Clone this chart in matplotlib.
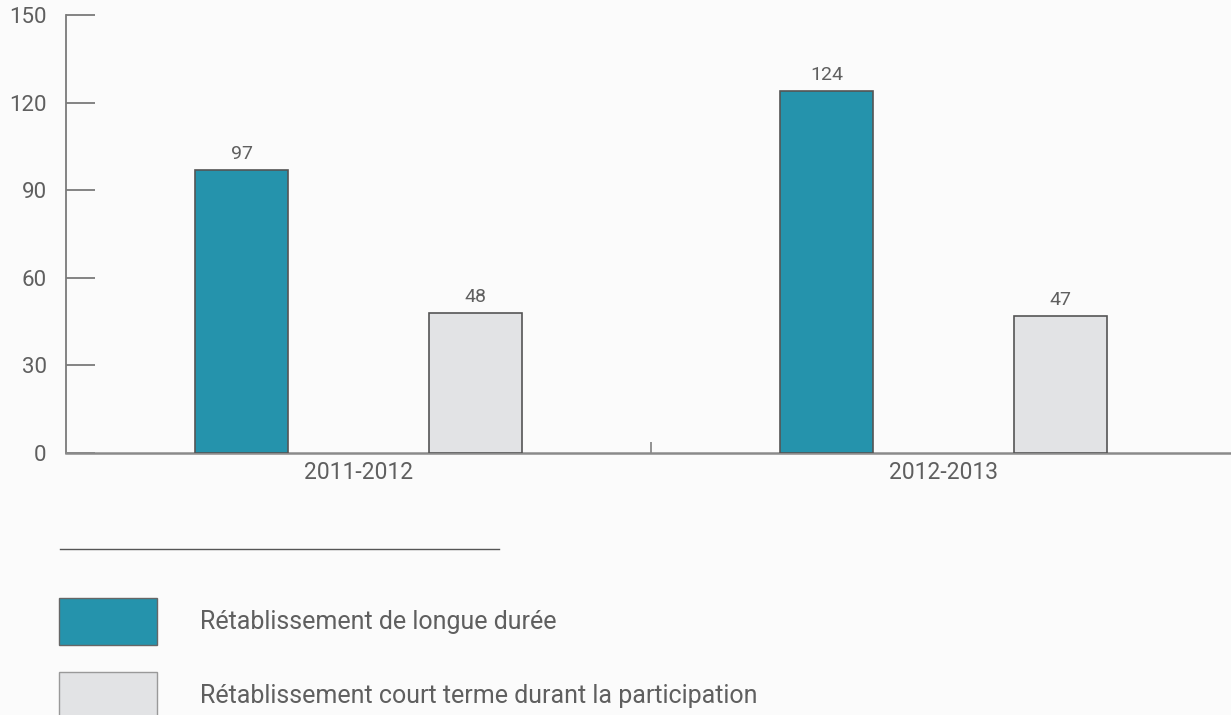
import matplotlib.pyplot as plt
from matplotlib.patches import Rectangle
from matplotlib.lines import Line2D

plt.rcParams['font.family'] = ['Roboto', 'DejaVu Sans']

# chart data
periods = ['2011-2012', '2012-2013']
series_names = ['Rétablissement de longue durée',
                'Rétablissement court terme durant la participation']
long_term = [97, 124]
short_term = [48, 47]
y_ticks = [0, 30, 60, 90, 120, 150]

teal = '#2593ac'
light = '#e2e3e5'
edge = '#555555'
txt = '#5f5f5f'
bg = '#fbfbfb'

W, H = 1231, 715
fig = plt.figure(figsize=(W / 100, H / 100), dpi=100, facecolor=bg)
ax = fig.add_axes([66 / W, (H - 453) / H, (W - 66) / W, 438 / H])
ax.set_facecolor(bg)

centers = [0.5, 1.5]
bw = 0.16
for i, c in enumerate(centers):
    b1 = ax.bar(c - 0.2, long_term[i], bw, color=teal, edgecolor=edge, linewidth=1.2, zorder=3)
    b2 = ax.bar(c + 0.2, short_term[i], bw, color=light, edgecolor=edge, linewidth=1.2, zorder=3)
    ax.bar_label(b1, padding=5, fontsize=14, color=txt)
    ax.bar_label(b2, padding=5, fontsize=14, color=txt)

ax.set_xlim(0, (W - 66) / 585)
ax.set_ylim(0, 150)

for s in ['top', 'right']:
    ax.spines[s].set_visible(False)
ax.spines['left'].set_color('#7a7a7a')
ax.spines['bottom'].set_color('#8a8a8a')
ax.spines['left'].set_linewidth(1.3)
ax.spines['bottom'].set_linewidth(1.8)

ax.set_yticks(y_ticks)
ax.tick_params(axis='y', direction='in', length=21, width=1.3, color='#7a7a7a',
               pad=14, labelsize=16, labelcolor=txt)
ax.get_yticklines()[0].set_color('#333333')

# group separator tick on the x axis, labels placed under each group
ax.set_xticks([1.0])
ax.set_xticklabels([''])
ax.tick_params(axis='x', direction='in', length=8, width=1.3, color='#8a8a8a')
for c, p in zip(centers, periods):
    ax.text(c, -2.6, p, ha='center', va='top', fontsize=16.5, color=txt)

# legend block below the chart
fig.add_artist(Line2D([60 / W, 499 / W], [1 - 549 / H, 1 - 549 / H],
                      color='#555555', linewidth=1.0))
colors = [teal, light]
for k, (name, col) in enumerate(zip(series_names, colors)):
    top = 598 + k * 74
    fig.add_artist(Rectangle((59 / W, 1 - (top + 47) / H), 98 / W, 47 / H,
                             facecolor=col, edgecolor='#666666' if k == 0 else '#999999',
                             linewidth=1.0))
    fig.text(200 / W, 1 - (top + 24) / H, name, ha='left', va='center',
             fontsize=18, color=txt)

fig.savefig('out.png', dpi=100, facecolor=bg)
